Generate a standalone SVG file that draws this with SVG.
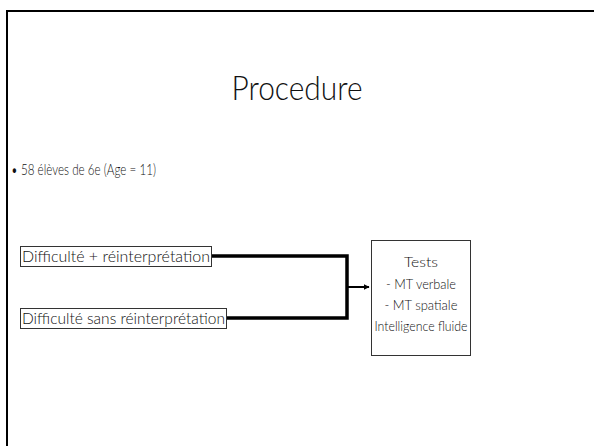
<svg xmlns="http://www.w3.org/2000/svg" width="594" height="446" viewBox="0 0 594 446">
<defs>
<style>
.t{font-family:"Lato","Liberation Sans",sans-serif;font-weight:300;fill:#111}
.box{fill:#fff;stroke:#333;stroke-width:1}
.con{fill:none;stroke:#000;stroke-width:3.5;stroke-linejoin:miter}
</style>
<marker id="ah" viewBox="0 0 10 10" refX="9" refY="5" markerWidth="3" markerHeight="3" orient="auto" markerUnits="strokeWidth">
<path d="M0,0 L10,5 L0,10 z" fill="#000"/>
</marker>
</defs>
<rect width="594" height="446" fill="#fff"/>
<path d="M7,460 V11 H610" fill="none" stroke="#000" stroke-width="2"/>
<text class="t" x="297" y="100" font-size="34" text-anchor="middle" textLength="131" lengthAdjust="spacingAndGlyphs">Procedure</text>
<text class="t" x="11" y="175" font-size="15" textLength="145" lengthAdjust="spacingAndGlyphs">• 58 élèves de 6e (Age = 11)</text>
<g id="connectors">
<path class="con" d="M212,256 H347 V318 H227"/>
<line x1="347" y1="287" x2="369" y2="287" stroke="#000" stroke-width="2" marker-end="url(#ah)"/>
</g>
<g id="n1">
<rect class="box" x="20.5" y="246.5" width="191" height="20"/>
<text class="t" x="22" y="262" font-size="15" textLength="188" lengthAdjust="spacingAndGlyphs">Difficulté + réinterprétation</text>
</g>
<g id="n2">
<rect class="box" x="20.5" y="308.5" width="206" height="20"/>
<text class="t" x="22" y="324" font-size="15" textLength="203" lengthAdjust="spacingAndGlyphs">Difficulté sans réinterprétation</text>
</g>
<g id="n3">
<rect class="box" x="371.5" y="240.5" width="99" height="115"/>
<text class="t" x="421" y="267" font-size="14.5" text-anchor="middle" textLength="34" lengthAdjust="spacingAndGlyphs">Tests</text>
<text class="t" x="421" y="289" font-size="14.5" text-anchor="middle" textLength="70" lengthAdjust="spacingAndGlyphs">- MT verbale</text>
<text class="t" x="421" y="310" font-size="14.5" text-anchor="middle" textLength="73" lengthAdjust="spacingAndGlyphs">- MT spatiale</text>
<text class="t" x="421" y="331" font-size="14.5" text-anchor="middle" textLength="93" lengthAdjust="spacingAndGlyphs">Intelligence fluide</text>
</g>
</svg>
